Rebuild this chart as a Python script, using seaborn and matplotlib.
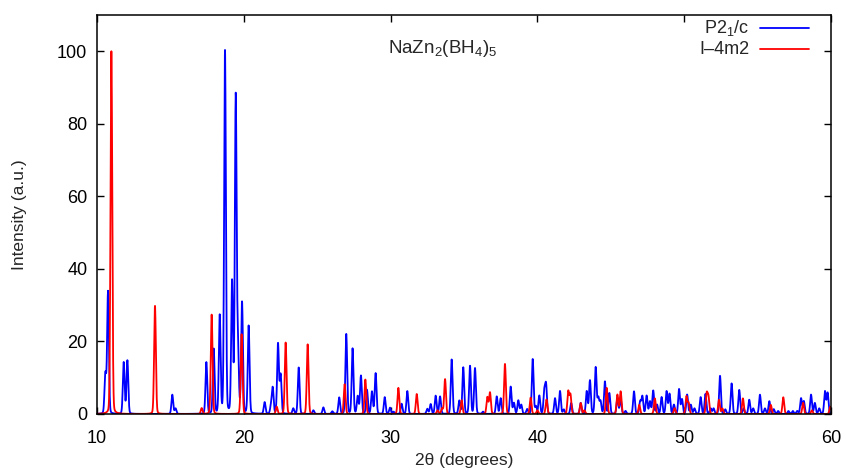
import numpy as np
import pandas as pd
import matplotlib
matplotlib.use("Agg")
import matplotlib.pyplot as plt
import seaborn as sns

# Peak positions (2theta, degrees) and relative intensities
p21c_pos = [10.57, 10.75, 11.82, 12.07, 15.13, 15.35, 17.45, 17.95, 18.36, 18.72, 19.2, 19.45,
            19.6, 19.88, 20.33, 21.42, 21.85, 21.97, 22.33, 22.51, 23.37, 23.74, 24.74, 25.42,
            26.03, 26.5, 26.98, 27.41, 27.76, 27.98, 28.39, 28.73, 28.98, 29.6, 29.96, 30.2,
            30.75, 31.14, 32.5, 32.73, 33.07, 33.37, 34.16, 34.68, 34.95, 35.41, 35.75, 36.3,
            37.23, 37.5, 38.18, 38.4, 38.7, 38.9, 39.3, 39.68, 39.9, 40.13, 40.47, 40.59, 41.2,
            41.54, 41.8, 42.3, 42.95, 43.36, 43.58, 43.97, 44.15, 44.3, 44.6, 44.9, 45.45, 45.67,
            46.0, 46.58, 47.0, 47.15, 47.44, 47.67, 47.89, 48.15, 48.46, 48.8, 49.0, 49.3, 49.65,
            49.85, 50.2, 50.45, 50.7, 51.12, 51.45, 51.8, 52.0, 52.44, 52.8, 53.23, 53.75, 54.05,
            54.43, 54.7, 55.16, 55.5, 55.8, 56.1, 56.4, 57.1, 57.4, 57.7, 57.96, 58.15, 58.64,
            58.9, 59.2, 59.59, 59.77]
p21c_int = [10.9, 33.7, 14.2, 14.7, 5.3, 1.5, 14.2, 17.8, 26.9, 100, 36, 87,
            17.8, 30.5, 24.2, 3.2, 2, 7.1, 19.3, 10.7, 1.5, 12.8, 1, 1.8,
            0.7, 4.5, 22, 18, 4.8, 10.5, 6.6, 6.1, 11.2, 4.6, 1.7, 0.6,
            2.8, 6.3, 1.4, 2.7, 5, 4.8, 15, 3.6, 12.8, 13.2, 12.6, 0.6,
            4.8, 4.3, 7.5, 3, 3.7, 2.5, 1.3, 15.1, 2, 5, 6, 7.8, 4.3,
            6.3, 1.2, 3, 3, 6.2, 9.2, 12.8, 4.3, 3.4, 8.9, 5.7, 4.5, 4,
            0.8, 6.2, 3.4, 4.8, 5, 3.4, 6.4, 2.5, 4.6, 6.2, 5.5, 2.5, 6.8,
            4, 5.3, 2.5, 1.5, 4.6, 5.5, 1.5, 1.5, 10.5, 1.2, 8.4, 6.6, 1.5,
            3.9, 1.5, 5.3, 1.5, 3.5, 1.3, 0.8, 0.8, 0.8, 0.8, 4.3, 3.5, 5.3,
            3, 1.5, 6.2, 5.8]

i4m2_pos = [10.98, 13.95, 17.13, 17.81, 19.85, 22.24, 22.85, 24.35, 26.87, 28.28, 30.53, 31.78,
            33.2, 33.5, 33.71, 34.84, 36.59, 36.77, 37.79, 39.54, 40.0, 40.62, 42.1, 42.25,
            42.95, 43.2, 44.72, 45.45, 45.67, 46.94, 48.0, 49.35, 50.15, 50.3, 51.53, 51.65,
            52.37, 52.6, 54.0, 55.9, 56.75, 58.1, 58.7, 59.95]
i4m2_int = [100, 29.8, 1.6, 27.4, 22, 2, 19.7, 19.2, 8.2, 9.5, 7.2, 5.5,
            1, 1.5, 9.6, 3.8, 4.6, 5.9, 13.8, 4.5, 1, 4, 6.2, 5.3,
            3, 1, 7.2, 5.3, 6.2, 2.5, 4.3, 1.6, 4.8, 3, 5.4, 4.5,
            3.9, 1.5, 4.3, 2.5, 4.6, 3.1, 1, 2]

series_labels = ["P2$_1$/c", "I\u20134m2"]
x_ticks = [10, 20, 30, 40, 50, 60]
y_ticks = [0, 20, 40, 60, 80, 100]


def profile(two_theta, pos, inten, fwhm=0.14, eta=0.12):
    y = np.zeros_like(two_theta)
    sig = fwhm / 2.3548
    hw = fwhm / 2
    for p, h in zip(pos, inten):
        d = two_theta - p
        g = np.exp(-0.5 * (d / sig) ** 2)
        l = 1.0 / (1.0 + (d / hw) ** 2)
        y += h * ((1 - eta) * g + eta * l)
    return y


tt = np.arange(10.0, 60.0001, 0.01)
df = pd.concat([
    pd.DataFrame({"2theta": tt, "I": profile(tt, p21c_pos, p21c_int), "phase": series_labels[0]}),
    pd.DataFrame({"2theta": tt, "I": profile(tt, i4m2_pos, i4m2_int), "phase": series_labels[1]}),
])

sns.set_style("ticks")
plt.rcParams["font.family"] = ["Liberation Sans", "DejaVu Sans"]
plt.rcParams["mathtext.fontset"] = "custom"
plt.rcParams["mathtext.rm"] = "Liberation Sans"
plt.rcParams["mathtext.it"] = "Liberation Sans"

W, H = 847, 470
L, R, T, B = 97, 831, 15, 414
fig = plt.figure(figsize=(W / 100, H / 100), dpi=100)
ax = fig.add_axes([L / W, 1 - B / H, (R - L) / W, (B - T) / H])

sns.lineplot(data=df, x="2theta", y="I", hue="phase",
             palette={series_labels[0]: "#0000ff", series_labels[1]: "#ff0000"},
             linewidth=1.3, ax=ax, estimator=None, sort=False, legend=False)

ax.set_xlim(10, 60)
ax.set_ylim(0, 110)
ax.set_xticks(x_ticks)
ax.set_yticks(y_ticks)
ax.tick_params(direction="in", length=5, width=1, top=True, right=True,
               labelsize=13, colors="black")
ax.tick_params(axis="x", pad=11.5)
ax.tick_params(axis="y", pad=7)
for s in ax.spines.values():
    s.set_linewidth(1.1)
    s.set_color("black")

ax.set_xlabel("2\u03b8 (degrees)", fontsize=12.5)
ax.xaxis.set_label_coords(0.5, (B - 461) / (B - T))
ax.xaxis.label.set_va("center")
ax.set_ylabel("Intensity (a.u.)", fontsize=12.5)
ax.yaxis.set_label_coords((20 - L) / (R - L), 0.5)
ax.yaxis.label.set_va("center")

ax.text((443 - L) / (R - L), (B - 48) / (B - T), "NaZn$_2$(BH$_4$)$_5$",
        fontsize=13.5, ha="center", va="center", transform=ax.transAxes)

# legend drawn in gnuplot style: text right-aligned, sample line on its right
colors = ["#0000ff", "#ff0000"]
rows_y = [28, 49]
for lab, c, ry in zip(series_labels, colors, rows_y):
    yy = (B - ry) / (B - T)
    ax.text((749 - L) / (R - L), yy, lab, fontsize=13, ha="right", va="center",
            transform=ax.transAxes)
    ax.plot([(760 - L) / (R - L), (809 - L) / (R - L)], [yy, yy], color=c,
            linewidth=1.3, transform=ax.transAxes, clip_on=False)

fig.savefig("out.png", dpi=100)
